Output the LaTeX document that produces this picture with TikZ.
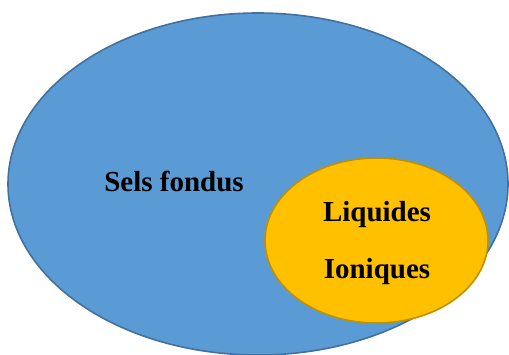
\documentclass[tikz,border=0pt]{standalone}
\usepackage{fontspec}
\setmainfont{Liberation Serif}
\usetikzlibrary{shapes.geometric}
\definecolor{bluefill}{HTML}{5B9BD5}
\definecolor{blueline}{HTML}{41719C}
\definecolor{orangefill}{HTML}{FFC000}
\definecolor{orangeline}{HTML}{BF9000}
\tikzset{
  setshape/.style={ellipse, inner sep=0pt, line width=1.6pt},
  lbl/.style={font=\fontsize{29}{35}\selectfont\bfseries, inner sep=0pt, text=black}
}
\begin{document}
\begin{tikzpicture}[x=1pt,y=1pt]
\useasboundingbox (0,0) rectangle (509,354);
\begin{scope}
\clip (0,0) rectangle (509,354);
\node[setshape, draw=blueline, fill=bluefill, minimum width=500pt, minimum height=342pt] (sels) at (258,170) {};
\node[setshape, draw=orangeline, fill=orangefill, minimum width=223pt, minimum height=165pt] (liq) at (376.5,113.5) {};
\end{scope}
\node[lbl] (t1) at (174,173) {Sels fondus};
\node[lbl] (t2) at (377,139) {Liquides};
\node[lbl] (t3) at (377,82) {Ioniques};
\end{tikzpicture}
\end{document}
